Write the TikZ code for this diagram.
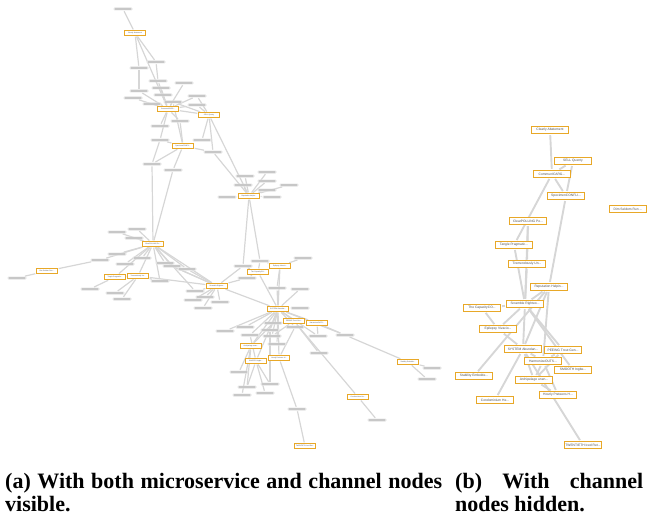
\documentclass[tikz,border=0pt]{standalone}
\usepackage{fontspec}
\newfontfamily\lab{Liberation Sans}
\newfontfamily\capfont{Liberation Serif}
\usetikzlibrary{backgrounds}
\definecolor{ornge}{RGB}{232,168,40}
\definecolor{edgegray}{RGB}{214,214,214}
\definecolor{pillgray}{RGB}{226,226,226}
\definecolor{pilltext}{RGB}{150,150,150}
\definecolor{labtext}{RGB}{80,80,80}
\tikzset{
  edge/.style={draw=edgegray, line width=1.2pt, shorten <=0.6pt, shorten >=0.6pt},
  redge/.style={draw=edgegray, line width=1.9pt, shorten <=1pt, shorten >=1pt},
  onode/.style={draw=ornge, fill=white, line width=1pt, text=labtext, font=\lab\fontsize{1.7}{2}\selectfont, inner sep=0.5pt, minimum width=21pt, minimum height=5pt},
  gnode/.style={fill=pillgray, rounded corners=1.2pt, minimum width=19pt, minimum height=3pt, inner sep=0pt,
    path picture={\fill[pilltext] ([xshift=2.2pt,yshift=-0.3pt]path picture bounding box.west) rectangle ([xshift=-2.2pt,yshift=0.3pt]path picture bounding box.east);}},
  rnode/.style={draw=ornge, fill=white, line width=1.1pt, text=labtext, font=\lab\fontsize{3.3}{4}\selectfont, inner xsep=1pt, inner ysep=0.5pt, minimum width=37pt, minimum height=7pt},
  captext/.style={anchor=north west, align=justify, inner sep=0pt, font=\capfont\bfseries\fontsize{22}{23}\selectfont}
}
\begin{document}
\begin{tikzpicture}[x=1pt,y=-1pt]
\useasboundingbox (0,0) rectangle (647,516);
% ---------- left graph: orange nodes ----------
\node[onode] (La) at (135,33) {Clearly Abatement};
\node[onode] (Lb) at (168,109) {CommunICARG...};
\node[onode] (Lc) at (209,115) {SELL Quenty};
\node[onode] (Ld) at (183,146) {SpecimenCONFLI...};
\node[onode] (Le) at (249,196) {Reputation Helpin...};
\node[onode] (Lf) at (153,244) {ClearPOLLING Po...};
\node[onode] (Lg) at (47,271) {Dim Seldom Run ...};
\node[onode] (Lh) at (115,277) {Tangle Pragmatic...};
\node[onode] (Li) at (138,276) {Tremendously Un...};
\node[onode] (Lk) at (217,286) {Scramble Righteo...};
\node[onode] (Ll) at (258,272) {The CapacityCO...};
\node[onode] (Ln) at (280,266) {Epilepsy Vivacio...};
\node[onode] (Lm) at (278,309) {SYSTEM Abundan...};
\node[onode] (Lp) at (294,321) {PEEING Trout Gen...};
\node[onode] (Lq) at (317,323) {HarmonizeOUTS...};
\node[onode] (Lr) at (251,346) {Archipelago unen...};
\node[onode] (Ls) at (256,361) {SMOOTH Ingbe...};
\node[onode] (Lt) at (279,358) {Hourly Preteens H...};
\node[onode] (Lu) at (408,362) {Stability Embolde...};
\node[onode] (Lv) at (358,397) {Condominium He...};
\node[onode] (Lw) at (305,446) {TWENTIETH Iced Ret...};
% ---------- left graph: grey channel nodes ----------
\foreach \n/\x/\y in {1/123/9, 2/156/62, 3/139/68, 4/158/81, 5/161/88, 6/139/91, 7/133/98, 8/163/95, 9/184/83,
  10/197/96, 11/197/105, 12/173/102, 13/152/104, 14/180/121, 15/160/126, 16/160/140, 17/202/140, 18/213/152,
  19/152/164, 20/173/170, 21/245/176, 22/267/172, 23/267/181, 24/289/185, 25/267/190, 26/243/185, 27/227/197,
  28/272/197, 29/137/229, 30/117/232, 31/134/238, 32/17/278, 33/100/260, 34/117/254, 35/125/264, 36/142/258,
  37/165/263, 38/172/266, 39/187/269, 40/160/281, 41/90/289, 42/115/293, 43/122/299, 44/195/291, 45/205/297,
  46/193/300, 47/220/302, 48/203/308, 49/243/266, 50/260/261, 51/303/258, 52/247/278, 53/277/288, 54/300/289,
  55/300/308, 56/273/323, 57/245/327, 58/270/330, 59/225/331, 60/295/327, 61/250/335, 62/272/336, 63/318/336,
  64/345/335, 65/277/344, 66/319/353, 67/239/372, 68/270/384, 69/247/387, 70/265/393, 71/242/395, 72/297/409,
  73/377/420, 74/432/368, 75/427/379}
  \node[gnode] (g\n) at (\x,\y) {};
% ---------- right graph nodes ----------
\node[rnode] (rClear) at (550,130) {Clearly Abatement};
\node[rnode] (rSell) at (573,161) {SELL Quenty};
\node[rnode] (rComm) at (552,174) {CommunICARG...};
\node[rnode] (rSpec) at (566,196) {SpecimenCONFLI...};
\node[rnode] (rDim) at (628,209) {Dim Seldom Run ...};
\node[rnode] (rPoll) at (528,221) {ClearPOLLING Po...};
\node[rnode] (rTangle) at (514,245) {Tangle Pragmatic...};
\node[rnode] (rTrem) at (527,264) {Tremendously Un...};
\node[rnode] (rRep) at (549,287) {Reputation Helpin...};
\node[rnode] (rScr) at (525,304) {Scramble Righteo...};
\node[rnode] (rCap) at (482,308) {The CapacityCO...};
\node[rnode] (rEpi) at (498,329) {Epilepsy Vivacio...};
\node[rnode] (rSys) at (523,349) {SYSTEM Abundan...};
\node[rnode] (rPee) at (563,350) {PEEING Trout Gen...};
\node[rnode] (rHar) at (543,361) {HarmonizeOUTS...};
\node[rnode] (rSmo) at (573,370) {SMOOTH Ingbe...};
\node[rnode] (rSta) at (474,376) {Stability Embolde...};
\node[rnode] (rArc) at (534,380) {Archipelago unen...};
\node[rnode] (rHou) at (558,395) {Hourly Preteens H...};
\node[rnode] (rCon) at (495,400) {Condominium He...};
\node[rnode] (rTw) at (583,445) {TWENTIETH Iced Ret...};
% ---------- captions ----------
\node[captext, text width=437pt] (capa) at (5,473) {(a) With both microservice and channel nodes visible.};
\node[captext, text width=188pt] (capb) at (455,473) {(b) With channel nodes hidden.};
% ---------- edges ----------
\begin{pgfonlayer}{background}
\foreach \a/\b in {La/g1, La/g3, La/g2, g2/g4, La/Lb, g3/g6,
  Lb/g4, Lb/g5, Lb/g6, Lb/g7, Lb/g8, Lb/g9, Lb/g10, Lb/g11, Lb/g12, Lb/g13, Lb/g14, Lb/g15, Lb/g16, Lb/Lc,
  Lc/g10, Lc/g11, Lc/g17, Lc/g18, Lc/Le, Lc/g12,
  Ld/g14, Ld/g19, Ld/g20, Ld/g18, Ld/g16, Ld/g12,
  g16/g19, g19/Lf, g20/Lf, g18/Le,
  Le/g21, Le/g22, Le/g23, Le/g24, Le/g25, Le/g26, Le/g27, Le/g28, Le/g49, Le/g50,
  Lf/g29, Lf/g30, Lf/g31, Lf/g33, Lf/g34, Lf/g35, Lf/g36, Lf/g37, Lf/g38, Lf/g39, Lf/g40, Lf/Lh, Lf/Li, Lf/Lk, Lf/g44,
  Lg/g32, Lg/g33,
  Li/Lh, Lh/g41, Li/g42, Li/g43, Li/Lk, Li/g40,
  Lk/g44, Lk/g45, Lk/g46, Lk/g47, Lk/g48, Lk/g52, Lk/g49, Lk/Lm, Lk/g37, Lk/g38, Lk/g39,
  Ll/g50, Ll/g49, Ll/g52, Ll/Lm, Ln/g51, Ln/g53, Ln/Lm, Ln/g50,
  Lm/g53, Lm/g54, Lm/g55, Lm/g56, Lm/g57, Lm/g58, Lm/g59, Lm/g60, Lm/g61, Lm/g62, Lm/g63, Lm/g65,
  Lm/Lp, Lm/Lq, Lm/Lr, Lm/Ls, Lm/Lt, Lm/g64, g64/Lu,
  Lp/Lv, Lv/g73, Lp/g66, Lq/g63, Lq/g64, Lp/g62,
  Lr/g67, Lr/g69, Lr/g71, Ls/g68, Ls/g70, Ls/g69, Lt/g72, g72/Lw, g58/g68, g56/Lr, g60/Lt, g61/Ls,
  Lu/g74, Lu/g75}
  \draw[edge] (\a) -- (\b);
\foreach \a/\b in {rClear/rComm, rSell/rComm, rSell/rSpec, rComm/rSpec, rComm/rTangle, rSpec/rRep,
  rPoll/rTrem, rTrem/rScr, rScr/rSys, rTangle/rScr, rPoll/rScr,
  rScr/rCap, rScr/rEpi, rScr/rPee, rScr/rSmo, rScr/rRep,
  rRep/rSta, rRep/rSys, rRep/rHar, rCap/rEpi, rEpi/rSys,
  rSys/rCon, rSys/rArc, rSys/rHar, rSys/rTw, rHar/rArc, rHar/rHou, rPee/rArc, rPee/rHar, rArc/rHou}
  \draw[redge] (\a) -- (\b);
\end{pgfonlayer}
\end{tikzpicture}
\end{document}
